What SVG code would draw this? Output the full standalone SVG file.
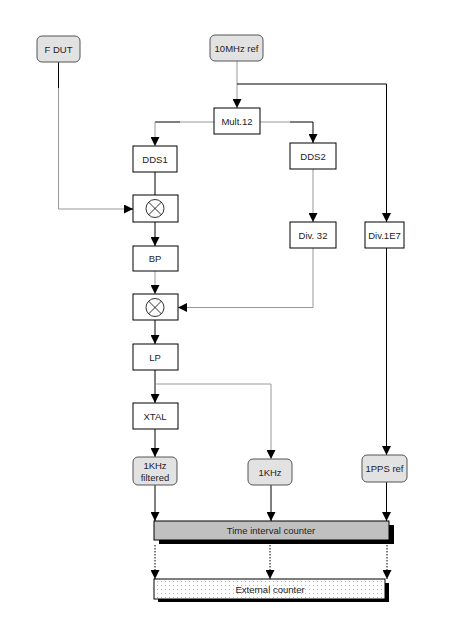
<svg xmlns="http://www.w3.org/2000/svg" width="460" height="625" viewBox="0 0 460 625">
<defs>
<marker id="ah" markerUnits="userSpaceOnUse" markerWidth="9" markerHeight="9" refX="9" refY="4.5" orient="auto">
<path d="M0,0 L9,4.5 L0,9 z" fill="#000"/>
</marker>
<pattern id="dots" width="4" height="4" patternUnits="userSpaceOnUse">
<rect x="1" y="1" width="1" height="1" fill="#b8b8b8"/>
</pattern>
<style>
.box{fill:#fff;stroke:#000;stroke-width:1}
.term{fill:#e2e2e2;stroke:#555;stroke-width:1}
.t{font-family:"Liberation Sans",Arial,sans-serif;font-size:9.5px;fill:#222;text-anchor:middle;dominant-baseline:central}
.k{fill:none;stroke:#000;stroke-width:1}
.g{fill:none;stroke:#999;stroke-width:1}
.d{fill:none;stroke:#000;stroke-width:1;stroke-dasharray:1.5,1.5}
.mix{fill:none;stroke:#000;stroke-width:0.8}
</style>
</defs>
<rect width="460" height="625" fill="#fff"/>

<g id="connectors">
<!-- F DUT to mixer1 -->
<path class="k" d="M58.5,62 V88"/>
<path class="g" d="M58.5,88 V209 H126"/>
<path class="k" d="M126,209 H133" marker-end="url(#ah)"/>
<!-- 10MHz ref to Mult.12 -->
<path class="g" d="M237,61 V108" marker-end="url(#ah)"/>
<!-- branch to Div.1E7 -->
<path class="k" d="M237,84 H386.5 V222" marker-end="url(#ah)"/>
<!-- Mult.12 to DDS1 -->
<path class="g" d="M214,122 H180"/>
<path class="k" d="M180,122 H155"/>
<path class="g" d="M155,122 V146" marker-end="url(#ah)"/>
<!-- Mult.12 to DDS2 -->
<path class="g" d="M260,122 H290"/>
<path class="k" d="M290,122 H313 V143" marker-end="url(#ah)"/>
<!-- DDS1 to mixer1 -->
<path class="k" d="M155,172 V195"/>
<!-- mixer1 to BP -->
<path class="k" d="M155,222 V246" marker-end="url(#ah)"/>
<!-- BP to mixer2 -->
<path class="g" d="M155,271 V294" marker-end="url(#ah)"/>
<!-- DDS2 to Div.32 -->
<path class="g" d="M313,169 V222" marker-end="url(#ah)"/>
<!-- Div.32 to mixer2 -->
<path class="g" d="M313,248 V307.5 H178" marker-end="url(#ah)"/>
<!-- mixer2 to LP -->
<path class="k" d="M155,320 V344" marker-end="url(#ah)"/>
<!-- LP to XTAL -->
<path class="k" d="M155,370 V403" marker-end="url(#ah)"/>
<!-- LP branch to 1KHz -->
<path class="g" d="M155,384 H271 V459" marker-end="url(#ah)"/>
<!-- XTAL to 1KHz filtered -->
<path class="k" d="M155,429 V457" marker-end="url(#ah)"/>
<!-- Div.1E7 to 1PPS ref -->
<path class="k" d="M386.5,248 V455" marker-end="url(#ah)"/>
<!-- to Time interval counter -->
<path class="k" d="M155,485 V521" marker-end="url(#ah)"/>
<path class="k" d="M271,485 V521" marker-end="url(#ah)"/>
<path class="k" d="M386.5,482 V521" marker-end="url(#ah)"/>
<!-- dotted to External counter -->
<path class="d" d="M155,545 V579" marker-end="url(#ah)"/>
<path class="d" d="M270,545 V579" marker-end="url(#ah)"/>
<path class="d" d="M387,545 V579" marker-end="url(#ah)"/>
</g>

<g id="fdut">
<rect class="term" x="37" y="36" width="43" height="26" rx="5"/>
<text class="t" x="58.5" y="49">F DUT</text>
</g>
<g id="ref10mhz">
<rect class="term" x="210" y="35" width="53" height="26" rx="5"/>
<text class="t" x="236.5" y="48">10MHz ref</text>
</g>
<g id="mult12">
<rect class="box" x="214" y="108" width="46" height="26"/>
<text class="t" x="237" y="121">Mult.12</text>
</g>
<g id="dds1">
<rect class="box" x="133" y="146" width="44" height="26"/>
<text class="t" x="155" y="159">DDS1</text>
</g>
<g id="dds2">
<rect class="box" x="290" y="143" width="46" height="26"/>
<text class="t" x="313" y="156">DDS2</text>
</g>
<g id="mixer1">
<rect class="box" x="133" y="195" width="45" height="27"/>
<circle class="mix" cx="155" cy="208.5" r="9"/>
<path class="mix" d="M148.6,202.1 L161.4,214.9 M161.4,202.1 L148.6,214.9"/>
</g>
<g id="div32">
<rect class="box" x="290" y="222" width="46" height="26"/>
<text class="t" x="313" y="235">Div. 32</text>
</g>
<g id="div1e7">
<rect class="box" x="365" y="222" width="39" height="26"/>
<text class="t" x="384.5" y="235">Div.1E7</text>
</g>
<g id="bp">
<rect class="box" x="133" y="246" width="45" height="25"/>
<text class="t" x="155" y="258.5">BP</text>
</g>
<g id="mixer2">
<rect class="box" x="133" y="294" width="45" height="26"/>
<circle class="mix" cx="155" cy="307.5" r="9"/>
<path class="mix" d="M148.6,301.1 L161.4,313.9 M161.4,301.1 L148.6,313.9"/>
</g>
<g id="lp">
<rect class="box" x="133" y="344" width="45" height="26"/>
<text class="t" x="155" y="357">LP</text>
</g>
<g id="xtal">
<rect class="box" x="133" y="403" width="45" height="26"/>
<text class="t" x="155" y="416">XTAL</text>
</g>
<g id="khz_filtered">
<rect class="term" x="133" y="457" width="44" height="28" rx="5"/>
<text class="t" x="155" y="465.5">1KHz</text>
<text class="t" x="155" y="477">filtered</text>
</g>
<g id="khz">
<rect class="term" x="248" y="459" width="44" height="26" rx="5"/>
<text class="t" x="270" y="472">1KHz</text>
</g>
<g id="pps">
<rect class="term" x="362" y="455" width="45" height="27" rx="5"/>
<text class="t" x="384.5" y="468.5">1PPS ref</text>
</g>
<g id="tic">
<rect x="159" y="525" width="235" height="19" fill="#000"/>
<rect x="154" y="521" width="235" height="19" fill="#c0c0c0" stroke="#000" stroke-width="1"/>
<text class="t" x="271" y="530.5">Time interval counter</text>
</g>
<g id="external">
<rect x="158" y="583" width="231" height="19" fill="#000"/>
<rect x="154" y="579" width="231" height="20" fill="#fff" stroke="#000" stroke-width="1"/>
<rect x="155" y="580" width="229" height="18" fill="url(#dots)"/>
<text class="t" x="270" y="589.5">External counter</text>
</g>
</svg>
